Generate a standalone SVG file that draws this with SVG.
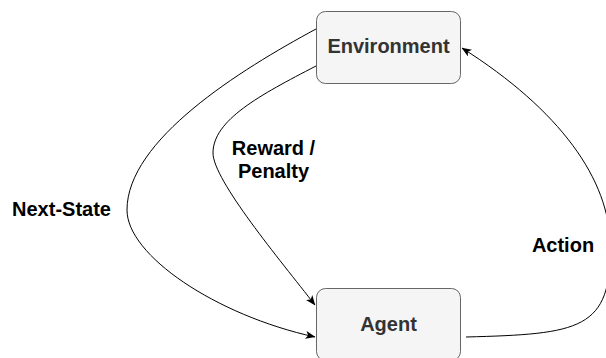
<svg xmlns="http://www.w3.org/2000/svg" width="606" height="358" viewBox="0 0 606 358">
  <style>
    .box { fill: #f5f5f5; stroke: #666666; stroke-width: 1; }
    .node-label { font-family: "Liberation Sans", Arial, sans-serif; font-size: 20px; font-weight: bold; fill: #333333; text-anchor: middle; }
    .edge { fill: none; stroke: #000000; stroke-width: 1; marker-end: url(#arrow); }
    .edge-label { font-family: "Liberation Sans", Arial, sans-serif; font-size: 20px; font-weight: bold; fill: #000000; text-anchor: middle; }
  </style>
  <defs>
    <marker id="arrow" viewBox="0 0 10 8" refX="9.5" refY="4" markerWidth="10" markerHeight="8" markerUnits="userSpaceOnUse" orient="auto">
      <path d="M0,0 L10,4 L0,8 L2.5,4 Z" fill="#000000"/>
    </marker>
  </defs>

  <rect width="606" height="358" fill="#ffffff"/>

  <!-- connectors -->
  <g id="connectors">
    <path id="next-state" class="edge" d="M316,29 C240,70 127,140 127,210 C127,255 215,315 315,337"/>
    <path id="reward-penalty" class="edge" d="M316,66 C260,95 213,120 213,153 C213,180 280,260 315,305"/>
    <path id="action" class="edge" d="M466,337 C580,334 612,330 610,245 C610,180 560,110 462,48"/>
    <text class="edge-label" x="61.5" y="216">Next-State</text>
    <text class="edge-label" x="273.5" y="155">Reward /</text>
    <text class="edge-label" x="273.5" y="178">Penalty</text>
    <text class="edge-label" x="563" y="252">Action</text>
  </g>

  <!-- nodes -->
  <g id="environment">
    <rect class="box" x="316.5" y="11.5" width="144" height="72" rx="9" ry="9"/>
    <text class="node-label" x="388.5" y="52.5">Environment</text>
  </g>
  <g id="agent">
    <rect class="box" x="316.5" y="288.5" width="144" height="72" rx="9" ry="9"/>
    <text class="node-label" x="388.5" y="331">Agent</text>
  </g>
</svg>
